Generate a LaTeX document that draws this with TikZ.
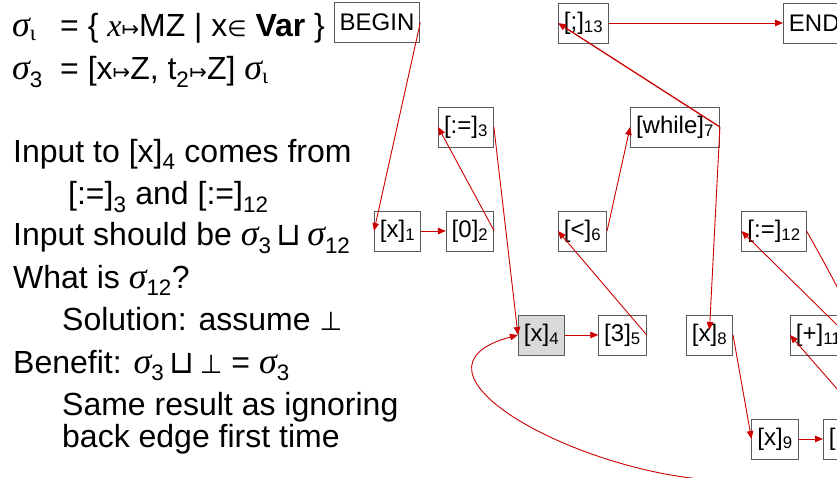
\documentclass[tikz,border=0pt]{standalone}
\usepackage{fontspec}
\setmainfont{Liberation Sans}
\newfontfamily\greekfont{Liberation Serif}
\newfontfamily\symfont{DejaVu Sans}
\usetikzlibrary{arrows.meta}
\usepackage{xcolor}
\definecolor{cfgred}{HTML}{CC0000}
\definecolor{cfgline}{HTML}{5A5A5A}
\definecolor{cfgfill}{HTML}{D9D9D9}
\newcommand{\sig}{{\greekfont\itshape\fontsize{36}{38}\selectfont σ}}
\newcommand{\mapsym}{{\symfont\fontsize{21}{24}\selectfont ↦}}
\newcommand{\lub}{{\symfont ⊔}}
\newcommand{\bott}{{\symfont\fontsize{26}{30}\selectfont ⊥}}

\begin{document}
\begin{tikzpicture}[x=1pt, y=-1pt,
    blk/.style={draw=cfgline, line width=0.9pt, minimum height=40pt,
      inner xsep=5.5pt, inner ysep=0pt, font=\fontsize{24}{28}\selectfont},
    flow/.style={cfgred, line width=0.9pt, -{Triangle[length=8pt, width=6.5pt]}},
    txt/.style={anchor=base west, inner sep=0pt, font=\fontsize{32}{38}\selectfont}]
  \useasboundingbox (0,0) rectangle (837,478);
  \clip (0,0) rectangle (837,478);
  % text on the left
  \node[txt] (t1) at (12,37) {\makebox[48pt][l]{\sig\textsubscript{\greekfont ι}}= \{ {\greekfont\itshape x}\mapsym MZ | x{\symfont\fontsize{22}{24}\selectfont ∈} \textbf{Var} \}};
  \node[txt] (t2) at (12,80) {\makebox[48pt][l]{\sig\textsubscript{3}}= [x\mapsym Z, t\textsubscript{2}\mapsym Z] \sig\textsubscript{\greekfont ι}};
  \node[txt] (t3) at (13,163) {Input to [x]\textsubscript{4} comes from};
  \node[txt] (t4) at (68,205) {[:=]\textsubscript{3} and [:=]\textsubscript{12}};
  \node[txt] (t5) at (13,246) {Input should be \sig\textsubscript{3}\,\lub\,\sig\textsubscript{12}};
  \node[txt] (t6) at (13,288) {What is \sig\textsubscript{12}?};
  \node[txt] (t7) at (62,330) {Solution: assume \bott};
  \node[txt] (t8) at (13,373) {Benefit: \sig\textsubscript{3}\,\lub\,\bott\ = \sig\textsubscript{3}};
  \node[txt] (t9) at (62,415) {Same result as ignoring};
  \node[txt] (t10) at (62,447) {back edge first time};
  % flow graph
  \node[blk] (begin) at (377,22.5) {BEGIN};
  \node[blk] (n13) at (583.5,23) {[;]\textsubscript{13}};
  \node[blk, anchor=west] (end) at (783,23) {END};
  \node[blk] (n3) at (466,127) {[:=]\textsubscript{3}};
  \node[blk] (n7) at (675,127) {[while]\textsubscript{7}};
  \node[blk] (n1) at (397.5,231) {[x]\textsubscript{1}};
  \node[blk] (n2) at (470,231) {[0]\textsubscript{2}};
  \node[blk] (n6) at (582.5,231) {[<]\textsubscript{6}};
  \node[blk] (n12) at (774,231) {[:=]\textsubscript{12}};
  \node[blk, fill=cfgfill] (n4) at (541.5,335) {[x]\textsubscript{4}};
  \node[blk] (n5) at (622.5,335) {[3]\textsubscript{5}};
  \node[blk] (n8) at (709.5,335) {[x]\textsubscript{8}};
  \node[blk, anchor=west] (n11) at (790,335) {[+]\textsubscript{11}};
  \node[blk] (n9) at (775,439) {[x]\textsubscript{9}};
  \node[blk, anchor=west] (n10) at (823,439) {[1]\textsubscript{10}};
  \coordinate (loop) at (711,480);
  % edges
  \draw[flow] (begin.east) -- (n1.west);
  \draw[flow] (n1.east) -- (n2.west);
  \draw[flow] (n2.east) -- (n3.west);
  \draw[flow] (n3.east) -- (n4.west);
  \draw[flow] (n4.east) -- (n5.west);
  \draw[flow] (n5.east) -- (n6.west);
  \draw[flow] (n6.east) -- (n7.west);
  \draw[flow, line width=1.3pt] (n7.east) -- (n13.west);
  \draw[flow] (n13.east) -- (end.west);
  \draw[flow] (n7.east) -- ([yshift=5pt]n8.center);
  \draw[flow] (n8.east) -- (n9.west);
  \draw[flow] (n9.east) -- (n10.west);
  \draw[flow] (n10.east) -- (n11.west);
  \draw[flow] (n11.east) -- (n12.west);
  % back edge
  \draw[flow] (n12.east) .. controls +(135,239) and +(200,14) .. (loop)
    .. controls +(-142,-10) and +(-126,34) .. (n4.west);
\end{tikzpicture}
\end{document}
